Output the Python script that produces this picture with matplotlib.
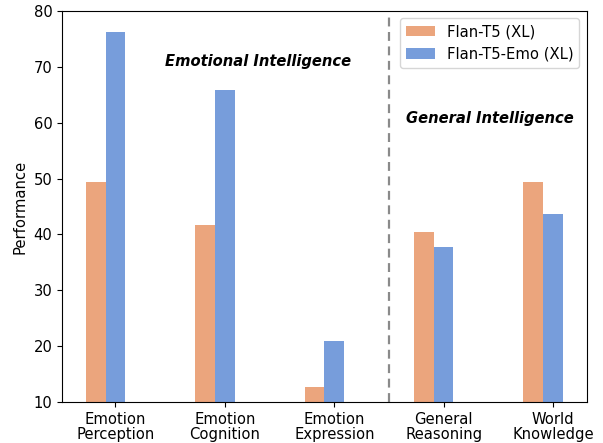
import numpy as np
import matplotlib
matplotlib.use("Agg")
import matplotlib.pyplot as plt

categories = ["Emotion\nPerception", "Emotion\nCognition", "Emotion\nExpression",
              "General\nReasoning", "World\nKnowledge"]
flan_t5 = [49.4, 41.7, 12.7, 40.5, 49.4]
flan_t5_emo = [76.2, 65.9, 20.9, 37.7, 43.7]

plt.rcParams["font.size"] = 10.6

x = np.arange(len(categories))
w = 0.18

fig, ax = plt.subplots(figsize=(6.03, 4.43), dpi=100)
ax.bar(x - w, flan_t5, w, color="#EBA57D", label="Flan-T5 (XL)")
ax.bar(x, flan_t5_emo, w, color="#779DDB", label="Flan-T5-Emo (XL)")
ax.set_ylim(10, 80)
ax.set_xticks(x)
ax.set_xticklabels(categories, linespacing=1.05)
ax.set_ylabel("Performance")
ax.axvline(2.5, color="#8a8a8a", linestyle=(0, (4, 2.5)), linewidth=1.6)
ax.text(1.3, 70.9, "Emotional Intelligence", ha="center", va="center",
        fontweight="bold", fontstyle="italic")
ax.text(3.42, 60.8, "General Intelligence", ha="center", va="center",
        fontweight="bold", fontstyle="italic")
ax.legend(loc="upper right")
plt.subplots_adjust(left=0.103, right=0.973, top=0.975, bottom=0.093)
plt.savefig("out.png")
